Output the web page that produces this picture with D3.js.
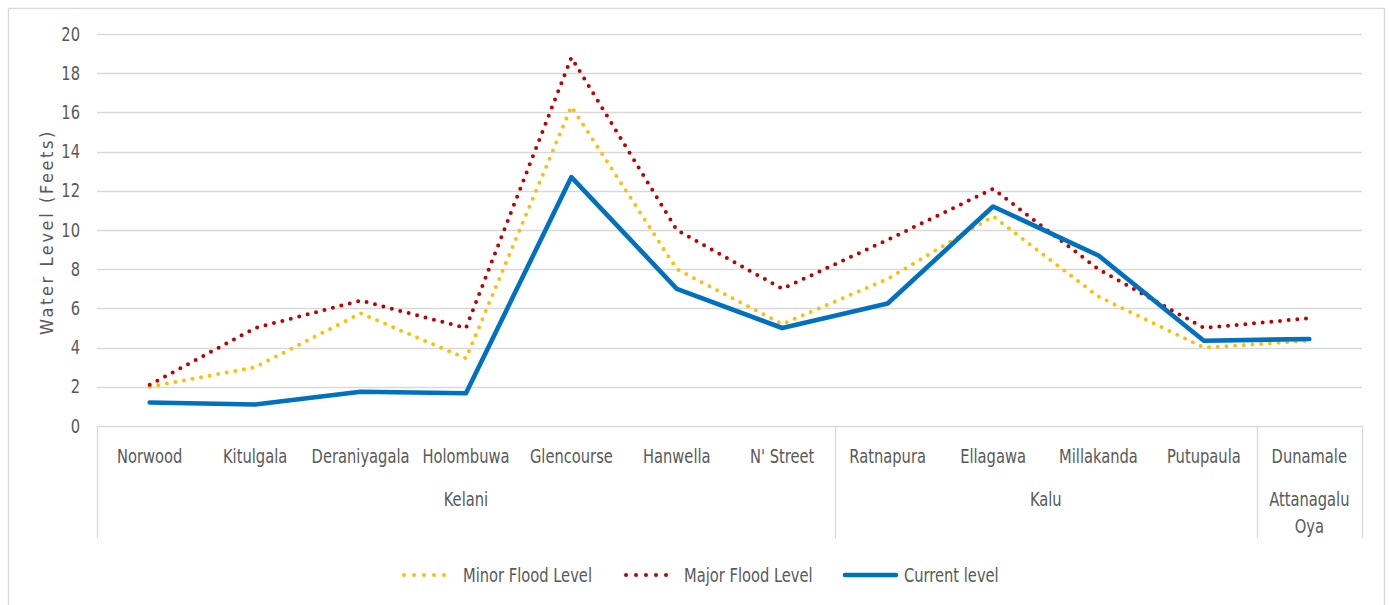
<!DOCTYPE html>
<html>
<head>
<meta charset="utf-8">
<script src="https://cdn.jsdelivr.net/npm/d3@7"></script>
<style>
  html, body { margin: 0; padding: 0; background: #fff; }
  svg { display: block; }
  text { font-family: "Liberation Sans Narrow", "DejaVu Sans Condensed", "Liberation Sans", sans-serif; fill: #595959; }
</style>
</head>
<body>
<svg id="chart" width="1390" height="605"></svg>
<script>
const categories = ["Norwood","Kitulgala","Deraniyagala","Holombuwa","Glencourse","Hanwella","N' Street","Ratnapura","Ellagawa","Millakanda","Putupaula","Dunamale"];
const categoryGroups = ["Kelani","Kelani","Kelani","Kelani","Kelani","Kelani","Kelani","Kalu","Kalu","Kalu","Kalu","Attanagalu Oya"];
const minorFlood = [2.0, 3.0, 5.75, 3.45, 16.3, 8.0, 5.2, 7.5, 10.7, 6.6, 4.0, 4.35];
const majorFlood = [2.1, 5.0, 6.4, 5.0, 18.8, 10.0, 7.0, 9.5, 12.1, 8.0, 5.0, 5.5];
const currentLevel = [1.2, 1.1, 1.75, 1.67, 12.7, 7.0, 5.0, 6.25, 11.2, 8.7, 4.35, 4.44];
const yTicks = [0, 2, 4, 6, 8, 10, 12, 14, 16, 18, 20];
const seriesNames = ["Minor Flood Level", "Major Flood Level", "Current level"];

const svg = d3.select("#chart");
const plot = { left: 97, right: 1362, top: 34, bottom: 426 };
const gridColor = "#d9d9d9";
const SX = 0.86;      // horizontal squeeze of the text
const FS = 19;

function addText(parent, x, y, str, anchor) {
  return parent.append("text")
    .attr("transform", `translate(${x},${y}) scale(${SX},1)`)
    .attr("text-anchor", anchor || "middle").attr("font-size", FS).text(str);
}

// outer border (bottom edge lies outside the picture)
svg.append("rect").attr("x", 8.5).attr("y", 8.5).attr("width", 1376).attr("height", 620)
  .attr("fill", "#fff").attr("stroke", gridColor).attr("stroke-width", 1.3);

const x = d3.scaleBand().domain(categories).range([plot.left, plot.right]).padding(0);
const cx = c => x(c) + x.bandwidth() / 2;
const y = d3.scaleLinear().domain([0, 20]).range([plot.bottom, plot.top]);

// gridlines
svg.append("g").selectAll("line").data(yTicks).join("line")
  .attr("x1", plot.left).attr("x2", plot.right)
  .attr("y1", d => Math.round(y(d)) + 0.5).attr("y2", d => Math.round(y(d)) + 0.5)
  .attr("stroke", gridColor).attr("stroke-width", 1.3);

// y axis labels
const yAxis = d3.axisLeft(y).tickValues(yTicks).tickSize(0).tickPadding(17);
const gy = svg.append("g").attr("transform", `translate(${plot.left},0)`).call(yAxis);
gy.select(".domain").remove();
gy.selectAll("text").attr("font-size", FS).style("fill", "#595959")
  .style("font-family", '"Liberation Sans Narrow", "DejaVu Sans Condensed", sans-serif')
  .attr("x", -17 / SX).attr("transform", `scale(${SX},1)`);

// y axis title
svg.append("text").attr("transform", `translate(53,${(plot.top + plot.bottom) / 2 + 2}) rotate(-90)`)
  .attr("text-anchor", "middle").attr("font-size", 18).attr("letter-spacing", 2.6)
  .text("Water Level  (Feets)");

// category axis separators
const groupInfo = [];
categoryGroups.forEach((g, i) => {
  const last = groupInfo[groupInfo.length - 1];
  if (last && last.name === g) { last.end = i; }
  else groupInfo.push({ name: g, start: i, end: i });
});
const catBottom = 538;
const sepXs = [plot.left].concat(groupInfo.map(g => x(categories[g.end]) + x.bandwidth()));
svg.append("g").selectAll("line").data(sepXs).join("line")
  .attr("x1", d => Math.round(d) + 0.5).attr("x2", d => Math.round(d) + 0.5)
  .attr("y1", plot.bottom).attr("y2", catBottom)
  .attr("stroke", gridColor).attr("stroke-width", 1.3);

// category labels
const gc = svg.append("g");
categories.forEach(c => addText(gc, cx(c), 463, c));

// group labels (wrap inside narrow groups)
groupInfo.forEach(g => {
  const gx0 = x(categories[g.start]), gx1 = x(categories[g.end]) + x.bandwidth();
  const mid = (gx0 + gx1) / 2;
  const words = g.name.split(" ");
  if (gx1 - gx0 < 150 && words.length > 1) {
    words.forEach((w, k) => addText(svg, mid, 506 + k * 27, w));
  } else addText(svg, mid, 506, g.name);
});

// lines
const line = vals => d3.line().x((d, i) => cx(categories[i])).y(d => y(d))(vals);
const styles = [
  { vals: minorFlood, color: "#FFC000", width: 4, dash: "0 8.7" },
  { vals: majorFlood, color: "#C00000", width: 4, dash: "0 8.7" },
  { vals: currentLevel, color: "#0070C0", width: 4.6, dash: null }
];
styles.forEach(s => {
  svg.append("path").attr("d", line(s.vals)).attr("fill", "none")
    .attr("stroke", s.color).attr("stroke-width", s.width)
    .attr("stroke-dasharray", s.dash).attr("stroke-linecap", "round").attr("stroke-linejoin", "round");
});

// legend
const legendItems = [
  { x: 404, tx: 463 },
  { x: 626, tx: 684 },
  { x: 845, tx: 904 }
];
const ly = 575;
seriesNames.forEach((n, i) => {
  const s = styles[i], L = legendItems[i];
  svg.append("line").attr("x1", L.x).attr("x2", L.x + (s.dash ? 50 : 51)).attr("y1", ly).attr("y2", ly)
    .attr("stroke", s.color).attr("stroke-width", s.width)
    .attr("stroke-dasharray", s.dash ? "0 10" : null).attr("stroke-linecap", "round");
  addText(svg, L.tx, ly + 7, n, "start");
});
</script>
</body>
</html>
